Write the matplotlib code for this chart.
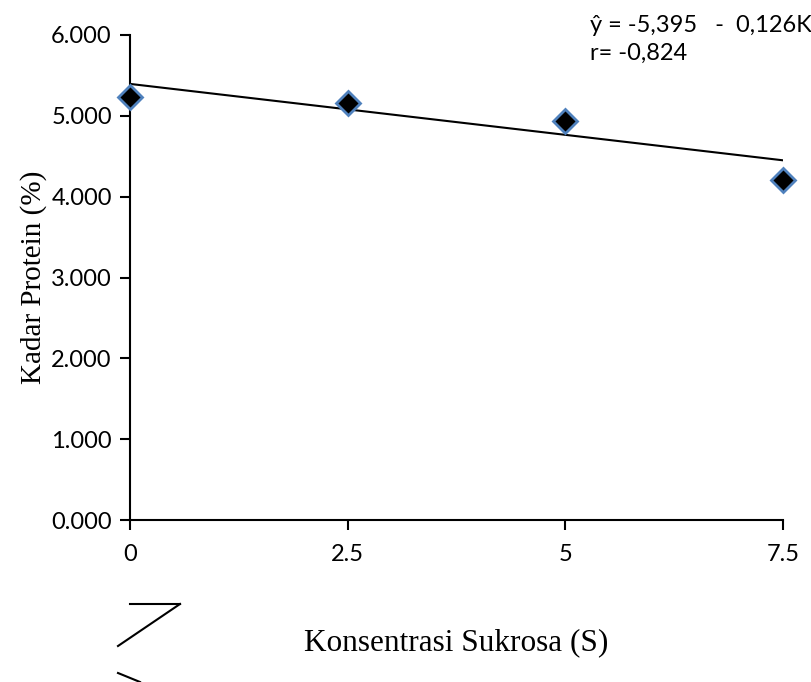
import numpy as np
import matplotlib
matplotlib.use('Agg')
import matplotlib.pyplot as plt
from matplotlib.lines import Line2D

# data
sukrosa = [0, 2.5, 5, 7.5]
protein = [5.23, 5.16, 4.94, 4.20]
intercept = 5.395
slope = -0.126
xtick_labels = ['0', '2.5', '5', '7.5']
ytick_vals = [0, 1, 2, 3, 4, 5, 6]

fig = plt.figure(figsize=(8.12, 6.82), dpi=100)
ax = fig.add_axes([0.160, 0.2375, 0.804, 0.7112])

xs = np.array([sukrosa[0], sukrosa[-1]])
ax.plot(xs, intercept + slope * xs, color='black', lw=1.5, zorder=2)
ax.plot(sukrosa, protein, linestyle='none', marker='D', markersize=12,
        markerfacecolor='black', markeredgecolor='#4F81BD', markeredgewidth=2,
        zorder=3, clip_on=False)

ax.set_xlim(0, 7.5)
ax.set_ylim(0, 6)
ax.set_xticks(sukrosa)
ax.set_xticklabels(xtick_labels)
ax.set_yticks(ytick_vals)
ax.set_yticklabels(['{:.3f}'.format(v) for v in ytick_vals])

for s in ['top', 'right']:
    ax.spines[s].set_visible(False)
for s in ['left', 'bottom']:
    ax.spines[s].set_linewidth(1.5)
ax.tick_params(direction='out', length=7, width=1.5, labelsize=17)
ax.tick_params(axis='x', pad=10)
ax.tick_params(axis='y', pad=6)
for lab in ax.get_xticklabels() + ax.get_yticklabels():
    lab.set_fontfamily('Lato')

ax.set_xlabel('Konsentrasi Sukrosa (S)', fontsize=22.5, family='Liberation Serif', labelpad=46)
ax.set_ylabel('Kadar Protein (%)', fontsize=21, family='Liberation Serif', labelpad=3)

fig.text(590 / 812, 1 - 25 / 682, 'ŷ = -5,395   -  0,126K', fontsize=17,
         family='Lato', va='center', ha='left')
fig.text(590 / 812, 1 - 53 / 682, 'r= -0,824', fontsize=17,
         family='Lato', va='center', ha='left')

# stray lines below the plot
W, H = 812.0, 682.0
def px_line(x0, y0, x1, y1):
    fig.add_artist(Line2D([x0 / W, x1 / W], [1 - y0 / H, 1 - y1 / H],
                          transform=fig.transFigure, color='black', lw=1.5))
px_line(130, 604, 180, 604)
px_line(180, 604, 118, 646)
px_line(118, 673, 140, 682)

fig.savefig('out.png', dpi=100)
